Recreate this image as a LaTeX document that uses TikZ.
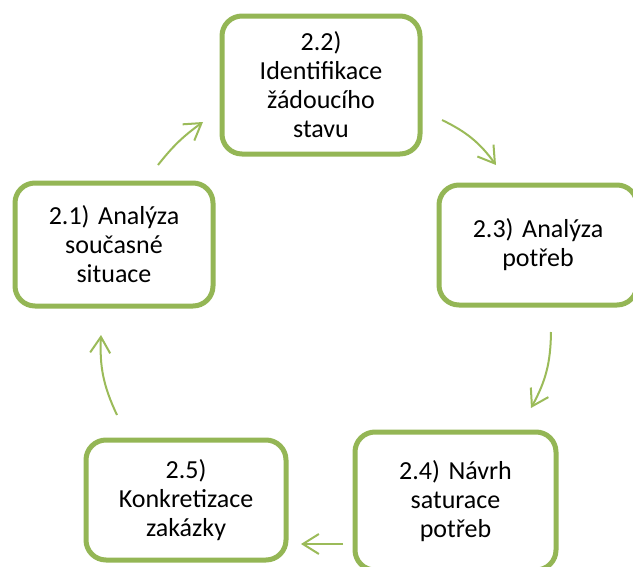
\documentclass[tikz,border=0pt]{standalone}
\usepackage{fontspec}
\setmainfont{Carlito}
\usetikzlibrary{arrows.meta}
\definecolor{stagegreen}{HTML}{94B655}
\definecolor{flowgreen}{HTML}{9BBB59}
\begin{document}
\begin{tikzpicture}[x=1pt,y=-1pt,
  stage/.style={draw=stagegreen, line width=5pt, rounded corners=20pt,
    fill=white, align=center, inner sep=0pt, text width=186pt,
    font=\fontsize{26}{29}\selectfont},
  flow/.style={draw=flowgreen, line width=2pt,
    -{Straight Barb[length=16pt,width=20pt,line width=2pt]}}]
\useasboundingbox (0,0) rectangle (633,566);
\clip (0,0) rectangle (633,566);

% stages of the cycle
\node[stage, minimum width=198pt, minimum height=138pt] (s22) at (321,85)
  {2.2)\\Identifikace\\žádoucího\\stavu};
\node[stage, minimum width=198pt, minimum height=123pt] (s21) at (114,244.5)
  {2.1) Analýza\\současné\\situace};
\node[stage, minimum width=198pt, minimum height=120pt] (s23) at (538,245)
  {2.3) Analýza\\potřeb};
\node[stage, minimum width=201pt, minimum height=138pt] (s24) at (455.5,501)
  {2.4) Návrh\\saturace\\potřeb};
\node[stage, minimum width=200pt, minimum height=120pt] (s25) at (186,500)
  {2.5)\\Konkretizace\\zakázky};

% free ends of the connecting arrows
\coordinate (a1s) at (158,165); \coordinate (a1e) at (203,122);
\coordinate (a2s) at (442,120); \coordinate (a2e) at (496,165);
\coordinate (a3s) at (551,332); \coordinate (a3e) at (531,408);
\coordinate (a4s) at (343,544); \coordinate (a4e) at (301,544);
\coordinate (a5s) at (117,415); \coordinate (a5e) at (101,335);

\draw[flow] (a1s) to[bend left=8] (a1e);
\draw[flow] (a2s) to[bend left=14] (a2e);
\draw[flow] (a3s) to[bend left=14] (a3e);
\draw[flow] (a4s) -- (a4e);
\draw[flow] (a5s) to[bend left=14] (a5e);
\end{tikzpicture}
\end{document}
